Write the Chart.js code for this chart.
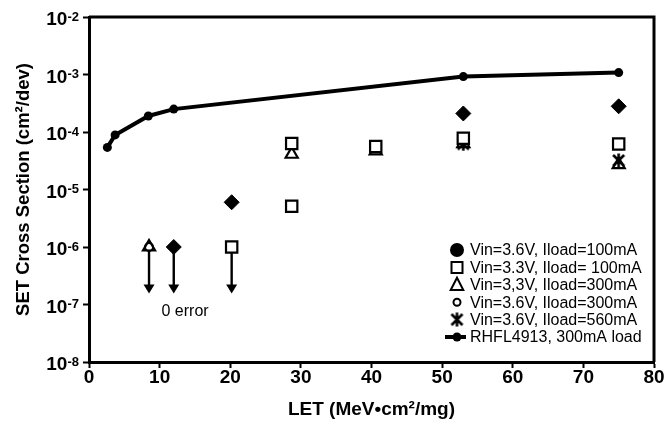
<!DOCTYPE html>
<html>
<head>
<meta charset="utf-8">
<title>SET Cross Section vs LET</title>
<script src="https://cdn.jsdelivr.net/npm/chart.js@4.4.1/dist/chart.umd.min.js"></script>
<style>
  html, body { margin: 0; padding: 0; background: #fff; }
</style>
</head>
<body>
<canvas id="setChart" width="665" height="424"></canvas>
<script>
// Data (LET in MeV.cm2/mg, cross section in cm2/dev)
const seriesLabels = [
  "Vin=3.6V, Iload=100mA",
  "Vin=3.3V, Iload= 100mA",
  "Vin=3,3V, Iload=300mA",
  "Vin=3.6V, Iload=300mA",
  "Vin=3.6V, Iload=560mA",
  "RHFL4913, 300mA load"
];

const v36i100X = [12, 20.2, 53, 75];
const v36i100Y = [1e-6, 6e-6, 2.1e-4, 2.8e-4];

const v33i100X = [20.2, 28.7, 28.7, 40.6, 53, 75];
const v33i100Y = [1e-6, 6.3e-5, 5.1e-6, 5.6e-5, 7.8e-5, 6.2e-5];

const v33i300X = [8.5, 28.7, 40.6, 53, 75];
const v33i300Y = [1e-6, 4.1e-5, 4.7e-5, 6.3e-5, 2.7e-5];

const v36i300X = [8.5];
const v36i300Y = [1e-6];

const v36i560X = [53, 75];
const v36i560Y = [6.2e-5, 3.2e-5];

const rhflX = [2.6, 3.7, 8.4, 12, 53, 75];
const rhflY = [5.4e-5, 8.9e-5, 1.9e-4, 2.5e-4, 9.2e-4, 1.08e-3];

// "0 error" upper-limit arrows
const arrowX = [8.5, 12, 20.2];
const arrowFrom = 1e-6;
const arrowTo = 1.55e-7;
const noteText = "0 error";
const noteX = 13.6;
const noteY = 7.6e-8;

// axis ticks
const xTicks = [0, 10, 20, 30, 40, 50, 60, 70, 80];
const yTickExps = [-8, -7, -6, -5, -4, -3, -2];

const FONT = '"Liberation Sans", Arial, Helvetica, sans-serif';

function toPoints(xs, ys) {
  return xs.map((x, i) => ({ x: x, y: ys[i] }));
}

// asterisk-like marker: X with a vertical bar
function makeStarMarker(size) {
  const c = document.createElement("canvas");
  c.width = size;
  c.height = size;
  const g = c.getContext("2d");
  g.strokeStyle = "#000";
  g.lineWidth = 2.6;
  const m = 2;
  g.beginPath();
  g.moveTo(m, m); g.lineTo(size - m, size - m);
  g.moveTo(size - m, m); g.lineTo(m, size - m);
  g.moveTo(size / 2, 0.5); g.lineTo(size / 2, size - 0.5);
  g.stroke();
  return c;
}
const starMarker = makeStarMarker(15);

function drawMarker(ctx, style, x, y, r, fill) {
  ctx.save();
  ctx.strokeStyle = "#000";
  ctx.fillStyle = fill;
  ctx.lineWidth = 2;
  ctx.beginPath();
  if (style === "circle") {
    ctx.arc(x, y, r, 0, Math.PI * 2);
  } else if (style === "rect") {
    ctx.rect(x - r, y - r, 2 * r, 2 * r);
  } else if (style === "triangle") {
    ctx.moveTo(x, y - r);
    ctx.lineTo(x + r * 0.9, y + r * 0.75);
    ctx.lineTo(x - r * 0.9, y + r * 0.75);
    ctx.closePath();
  }
  ctx.fill();
  ctx.stroke();
  ctx.restore();
}

// legend drawn inside the plot, lower right
const legendItems = [
  { style: "circle", r: 6, fill: "#000" },
  { style: "rect", r: 5.5, fill: "#fff" },
  { style: "triangle", r: 7, fill: "#fff" },
  { style: "circle", r: 3.5, fill: "#fff" },
  { style: "star" },
  { style: "line" }
];

const boxLegend = {
  id: "boxLegend",
  afterDraw(chart) {
    const ctx = chart.ctx;
    const area = chart.chartArea;
    const rowH = 17.4;
    const markX = area.right - 197;
    const textX = area.right - 184;
    const firstY = area.bottom - 25 - rowH * (legendItems.length - 1);
    ctx.save();
    ctx.font = "16px " + FONT;
    ctx.textAlign = "left";
    ctx.textBaseline = "middle";
    legendItems.forEach((it, i) => {
      const y = firstY + i * rowH;
      if (it.style === "star") {
        ctx.drawImage(starMarker, markX - 7.5, y - 7.5);
      } else if (it.style === "line") {
        ctx.strokeStyle = "#000";
        ctx.lineWidth = 4;
        ctx.beginPath();
        ctx.moveTo(markX - 12, y);
        ctx.lineTo(markX + 9, y);
        ctx.stroke();
        ctx.fillStyle = "#000";
        ctx.beginPath();
        ctx.arc(markX, y, 4.5, 0, Math.PI * 2);
        ctx.fill();
      } else {
        drawMarker(ctx, it.style, markX, y, it.r, it.fill);
      }
      ctx.fillStyle = "#000";
      ctx.fillText(seriesLabels[i], textX, y + 1);
    });
    ctx.restore();
  }
};

// frame, arrows, note text, y tick labels
const extras = {
  id: "extras",
  beforeDatasetsDraw(chart) {
    const { ctx, scales: { x, y } } = chart;
    ctx.save();
    ctx.strokeStyle = "#000";
    ctx.fillStyle = "#000";
    ctx.lineWidth = 2.4;
    arrowX.forEach(v => {
      const px = x.getPixelForValue(v);
      const top = y.getPixelForValue(arrowFrom);
      const tip = y.getPixelForValue(arrowTo);
      ctx.beginPath();
      ctx.moveTo(px, top);
      ctx.lineTo(px, tip - 7);
      ctx.stroke();
      ctx.beginPath();
      ctx.moveTo(px - 5.5, tip - 9);
      ctx.lineTo(px + 5.5, tip - 9);
      ctx.lineTo(px, tip);
      ctx.closePath();
      ctx.fill();
    });
    ctx.font = "16px " + FONT;
    ctx.textAlign = "center";
    ctx.textBaseline = "middle";
    ctx.fillText(noteText, x.getPixelForValue(noteX), y.getPixelForValue(noteY));
    ctx.restore();
  },
  afterDraw(chart) {
    const { ctx, chartArea: a, scales: { y } } = chart;
    ctx.save();
    ctx.strokeStyle = "#000";
    ctx.lineWidth = 3;
    ctx.beginPath();
    ctx.moveTo(a.left, a.top);
    ctx.lineTo(a.right, a.top);
    ctx.lineTo(a.right, a.bottom);
    ctx.stroke();

    // y tick labels as 10 with superscript exponent
    ctx.fillStyle = "#000";
    ctx.textAlign = "right";
    ctx.textBaseline = "alphabetic";
    yTickExps.forEach(e => {
      const py = y.getPixelForValue(Math.pow(10, e));
      const sup = String(e);
      ctx.font = "bold 13px " + FONT;
      const supW = ctx.measureText(sup).width;
      const right = a.left - 10;
      ctx.fillText(sup, right, py + 3.5);
      ctx.font = "bold 19px " + FONT;
      ctx.fillText("10", right - supW, py + 8);
    });
    ctx.restore();
  }
};

const ctx = document.getElementById("setChart").getContext("2d");

window.setChart = new Chart(ctx, {
  type: "scatter",
  data: {
    datasets: [
      {
        label: seriesLabels[0],
        data: toPoints(v36i100X, v36i100Y),
        pointStyle: "rectRot",
        pointRadius: 7.5,
        backgroundColor: "#000",
        borderColor: "#000",
        borderWidth: 1
      },
      {
        label: seriesLabels[1],
        data: toPoints(v33i100X, v33i100Y),
        pointStyle: "rect",
        pointRadius: 8,
        backgroundColor: "#fff",
        borderColor: "#000",
        borderWidth: 2.2
      },
      {
        label: seriesLabels[2],
        data: toPoints(v33i300X, v33i300Y),
        pointStyle: "triangle",
        pointRadius: 7,
        backgroundColor: "rgba(255,255,255,0)",
        borderColor: "#000",
        borderWidth: 2.2
      },
      {
        label: seriesLabels[3],
        data: toPoints(v36i300X, v36i300Y),
        pointStyle: "circle",
        pointRadius: 4,
        backgroundColor: "#fff",
        borderColor: "#000",
        borderWidth: 2
      },
      {
        label: seriesLabels[4],
        data: toPoints(v36i560X, v36i560Y),
        pointStyle: starMarker,
        pointRadius: 7.5,
        backgroundColor: "#000",
        borderColor: "#000"
      },
      {
        label: seriesLabels[5],
        data: toPoints(rhflX, rhflY),
        showLine: true,
        borderColor: "#000",
        backgroundColor: "#000",
        borderWidth: 4,
        pointStyle: "circle",
        pointRadius: 4.5,
        pointBorderWidth: 0
      }
    ]
  },
  options: {
    responsive: false,
    animation: false,
    layout: { padding: { top: 17, right: 11, left: 0, bottom: 0 } },
    plugins: {
      legend: { display: false },
      tooltip: { enabled: false }
    },
    scales: {
      x: {
        type: "linear",
        min: 0,
        max: 80,
        afterBuildTicks: s => { s.ticks = xTicks.map(v => ({ value: v })); },
        afterFit: s => { s.height = 62; },
        border: { display: true, color: "#000", width: 3 },
        grid: { display: true, drawOnChartArea: false, drawTicks: true, tickLength: 6, tickWidth: 2, tickColor: "#000", color: "#000" },
        ticks: { color: "#000", font: { family: FONT, size: 19, weight: "bold" }, padding: -2, maxRotation: 0 },
        title: { display: true, text: "LET (MeV•cm²/mg)", color: "#000", font: { family: FONT, size: 19, weight: "bold" }, padding: { top: 0, bottom: 3 } }
      },
      y: {
        type: "logarithmic",
        min: 1e-8,
        max: 1e-2,
        afterBuildTicks: s => { s.ticks = yTickExps.map(e => ({ value: Math.pow(10, e) })); },
        afterFit: s => { s.width = 89; },
        border: { display: true, color: "#000", width: 3 },
        grid: { display: true, drawOnChartArea: false, drawTicks: true, tickLength: 6, tickWidth: 2, tickColor: "#000", color: "#000" },
        ticks: { callback: () => "", font: { family: FONT, size: 18 } },
        title: { display: true, text: "SET Cross Section (cm²/dev)", color: "#000", font: { family: FONT, size: 18.5, weight: "bold" }, padding: { top: 13, bottom: 0 } }
      }
    }
  },
  plugins: [extras, boxLegend]
});
</script>
</body>
</html>
